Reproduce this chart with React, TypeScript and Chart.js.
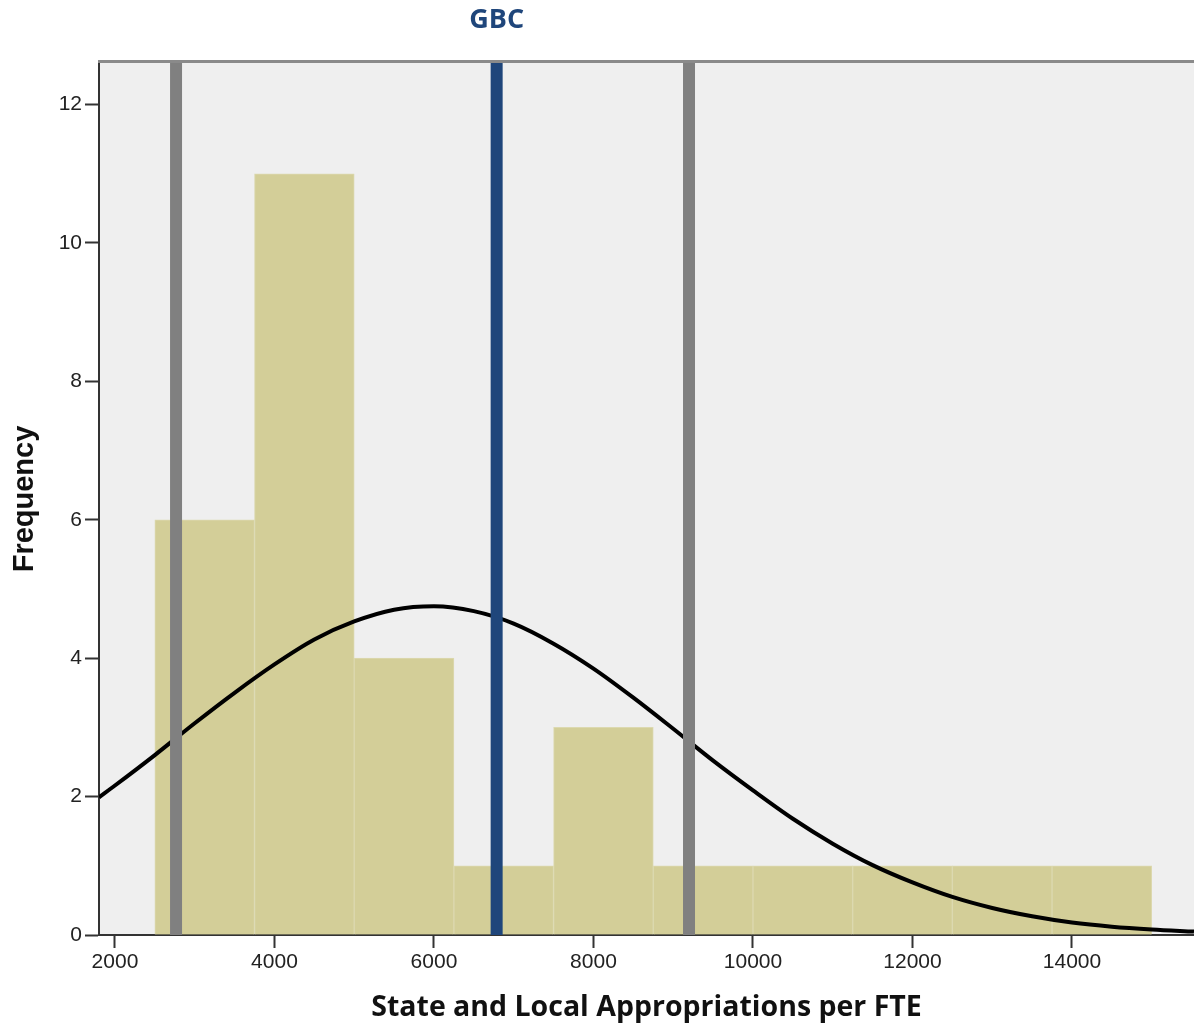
import React, { useEffect, useRef } from "react";
import { Chart, registerables } from "chart.js";

Chart.register(...registerables);

// Histogram bins (State and Local Appropriations per FTE)
const binEdges = [2500, 3750, 5000, 6250, 7500, 8750, 10000, 11250, 12500, 13750, 15000];
const frequencies = [6, 11, 4, 1, 3, 1, 1, 1, 1, 1];

// Normal curve
const curveX = [1800, 2000, 2500, 3000, 3500, 4000, 4500, 5000, 5500, 6000, 6500, 7000, 7500, 8000, 8500, 9000, 9500, 10000, 10500, 11000, 11500, 12000, 12500, 13000, 13500, 14000, 14500, 15000, 15530];
const curveY = [1.99, 2.16, 2.6, 3.06, 3.5, 3.91, 4.27, 4.53, 4.7, 4.75, 4.68, 4.5, 4.21, 3.85, 3.43, 2.98, 2.52, 2.09, 1.68, 1.32, 1.01, 0.76, 0.55, 0.39, 0.27, 0.18, 0.12, 0.08, 0.05];

// Reference lines
const lowerLine = 2766;
const gbcValue = 6786;
const upperLine = 9198;
const gbcLabel = "GBC";

// Axes
const xTicks = [2000, 4000, 6000, 8000, 10000, 12000, 14000];
const yTicks = [0, 2, 4, 6, 8, 10, 12];
const xMin = 1800;
const xMax = 15530;
const yMax = 12.6;
const xTitle = "State and Local Appropriations per FTE";
const yTitle = "Frequency";

export default function App() {
  const ref = useRef<HTMLCanvasElement | null>(null);

  useEffect(() => {
    if (!ref.current) return;
    const barData = frequencies.map((f, i) => ({ x: (binEdges[i] + binEdges[i + 1]) / 2, y: f }));
    const curveData = curveX.map((x, i) => ({ x, y: curveY[i] }));
    const vline = (v: number) => [{ x: v, y: 0 }, { x: v, y: yMax }];

    const bgPlugin = {
      id: "bgPlugin",
      beforeDraw(chart: any) {
        const { ctx, chartArea: a } = chart;
        ctx.save();
        ctx.fillStyle = "#efefef";
        ctx.fillRect(a.left, a.top, a.right - a.left, a.bottom - a.top);
        ctx.restore();
      },
      afterDraw(chart: any) {
        const { ctx, chartArea: a } = chart;
        ctx.save();
        ctx.strokeStyle = "#8a8a8a";
        ctx.lineWidth = 3;
        ctx.beginPath();
        ctx.moveTo(a.left - 1, a.top - 1.5);
        ctx.lineTo(a.right, a.top - 1.5);
        ctx.stroke();
        const xs = chart.scales.x;
        ctx.fillStyle = "#1f467b";
        ctx.font = "bold 27px 'Open Sans'";
        ctx.textAlign = "center";
        ctx.textBaseline = "middle";
        ctx.fillText(gbcLabel, xs.getPixelForValue(gbcValue), 20);
        ctx.restore();
      },
    };

    const chart = new Chart(ref.current, {
      type: "bar",
      data: {
        datasets: [
          {
            type: "line",
            data: vline(lowerLine),
            borderColor: "#808080",
            borderWidth: 12,
            pointRadius: 0,
            order: 0,
          } as any,
          {
            type: "line",
            data: vline(gbcValue),
            borderColor: "#1f467b",
            borderWidth: 12,
            pointRadius: 0,
            order: 0,
          } as any,
          {
            type: "line",
            data: vline(upperLine),
            borderColor: "#808080",
            borderWidth: 12,
            pointRadius: 0,
            order: 0,
          } as any,
          {
            type: "line",
            data: curveData,
            borderColor: "#000000",
            borderWidth: 4,
            pointRadius: 0,
            cubicInterpolationMode: "monotone",
            order: 1,
          } as any,
          {
            type: "bar",
            data: barData,
            backgroundColor: "#d3ce98",
            borderColor: "#dcd9b0",
            borderWidth: 1,
            categoryPercentage: 1,
            barPercentage: 1,
            order: 2,
          } as any,
        ],
      },
      options: {
        responsive: false,
        animation: false,
        devicePixelRatio: 1,
        layout: { padding: { top: 63, right: 0, left: 0, bottom: 0 } },
        plugins: {
          legend: { display: false },
          title: { display: false },
          tooltip: { enabled: false },
        },
        scales: {
          x: {
            type: "linear",
            min: xMin,
            max: xMax,
            offset: false,
            grid: {
              offset: false,
              drawOnChartArea: false,
              drawTicks: true,
              tickLength: 13,
              tickWidth: 2,
              tickColor: "#333",
            },
            border: { display: true, color: "#333", width: 2 },
            ticks: {
              color: "#222",
              font: { family: "'Liberation Sans', Arial, sans-serif", size: 21 },
              padding: 2,
              maxRotation: 0,
              autoSkip: false,
              callback: (v: any) => String(v),
            },
            afterBuildTicks: (s: any) => {
              s.ticks = xTicks.map((v) => ({ value: v }));
            },
            afterFit: (s: any) => {
              s.height = 91;
            },
            title: {
              display: true,
              text: xTitle,
              color: "#111",
              font: { family: "'Open Sans'", size: 28.5, weight: "bold" },
              padding: { top: 0, bottom: 1 },
            },
          },
          y: {
            type: "linear",
            min: 0,
            max: yMax,
            grid: {
              drawOnChartArea: false,
              drawTicks: true,
              tickLength: 14,
              tickWidth: 2,
              tickColor: "#333",
            },
            border: { display: true, color: "#333", width: 2 },
            ticks: {
              color: "#222",
              font: { family: "'Liberation Sans', Arial, sans-serif", size: 21 },
              padding: 3,
              autoSkip: false,
              callback: (v: any) => String(v),
            },
            afterBuildTicks: (s: any) => {
              s.ticks = yTicks.map((v) => ({ value: v }));
            },
            afterFit: (s: any) => {
              s.width = 99;
            },
            title: {
              display: true,
              text: yTitle,
              color: "#111",
              font: { family: "'Liberation Sans', Arial, sans-serif", size: 29, weight: "bold" },
              padding: { top: 8, bottom: 0 },
            },
          },
        },
      },
      plugins: [bgPlugin],
    } as any);

    return () => chart.destroy();
  }, []);

  return (
    <div style={{ position: "absolute", left: 0, top: 0, width: 1194, height: 1026, background: "#fff" }}>
      <canvas ref={ref} width={1194} height={1026} style={{ display: "block" }} />
    </div>
  );
}
